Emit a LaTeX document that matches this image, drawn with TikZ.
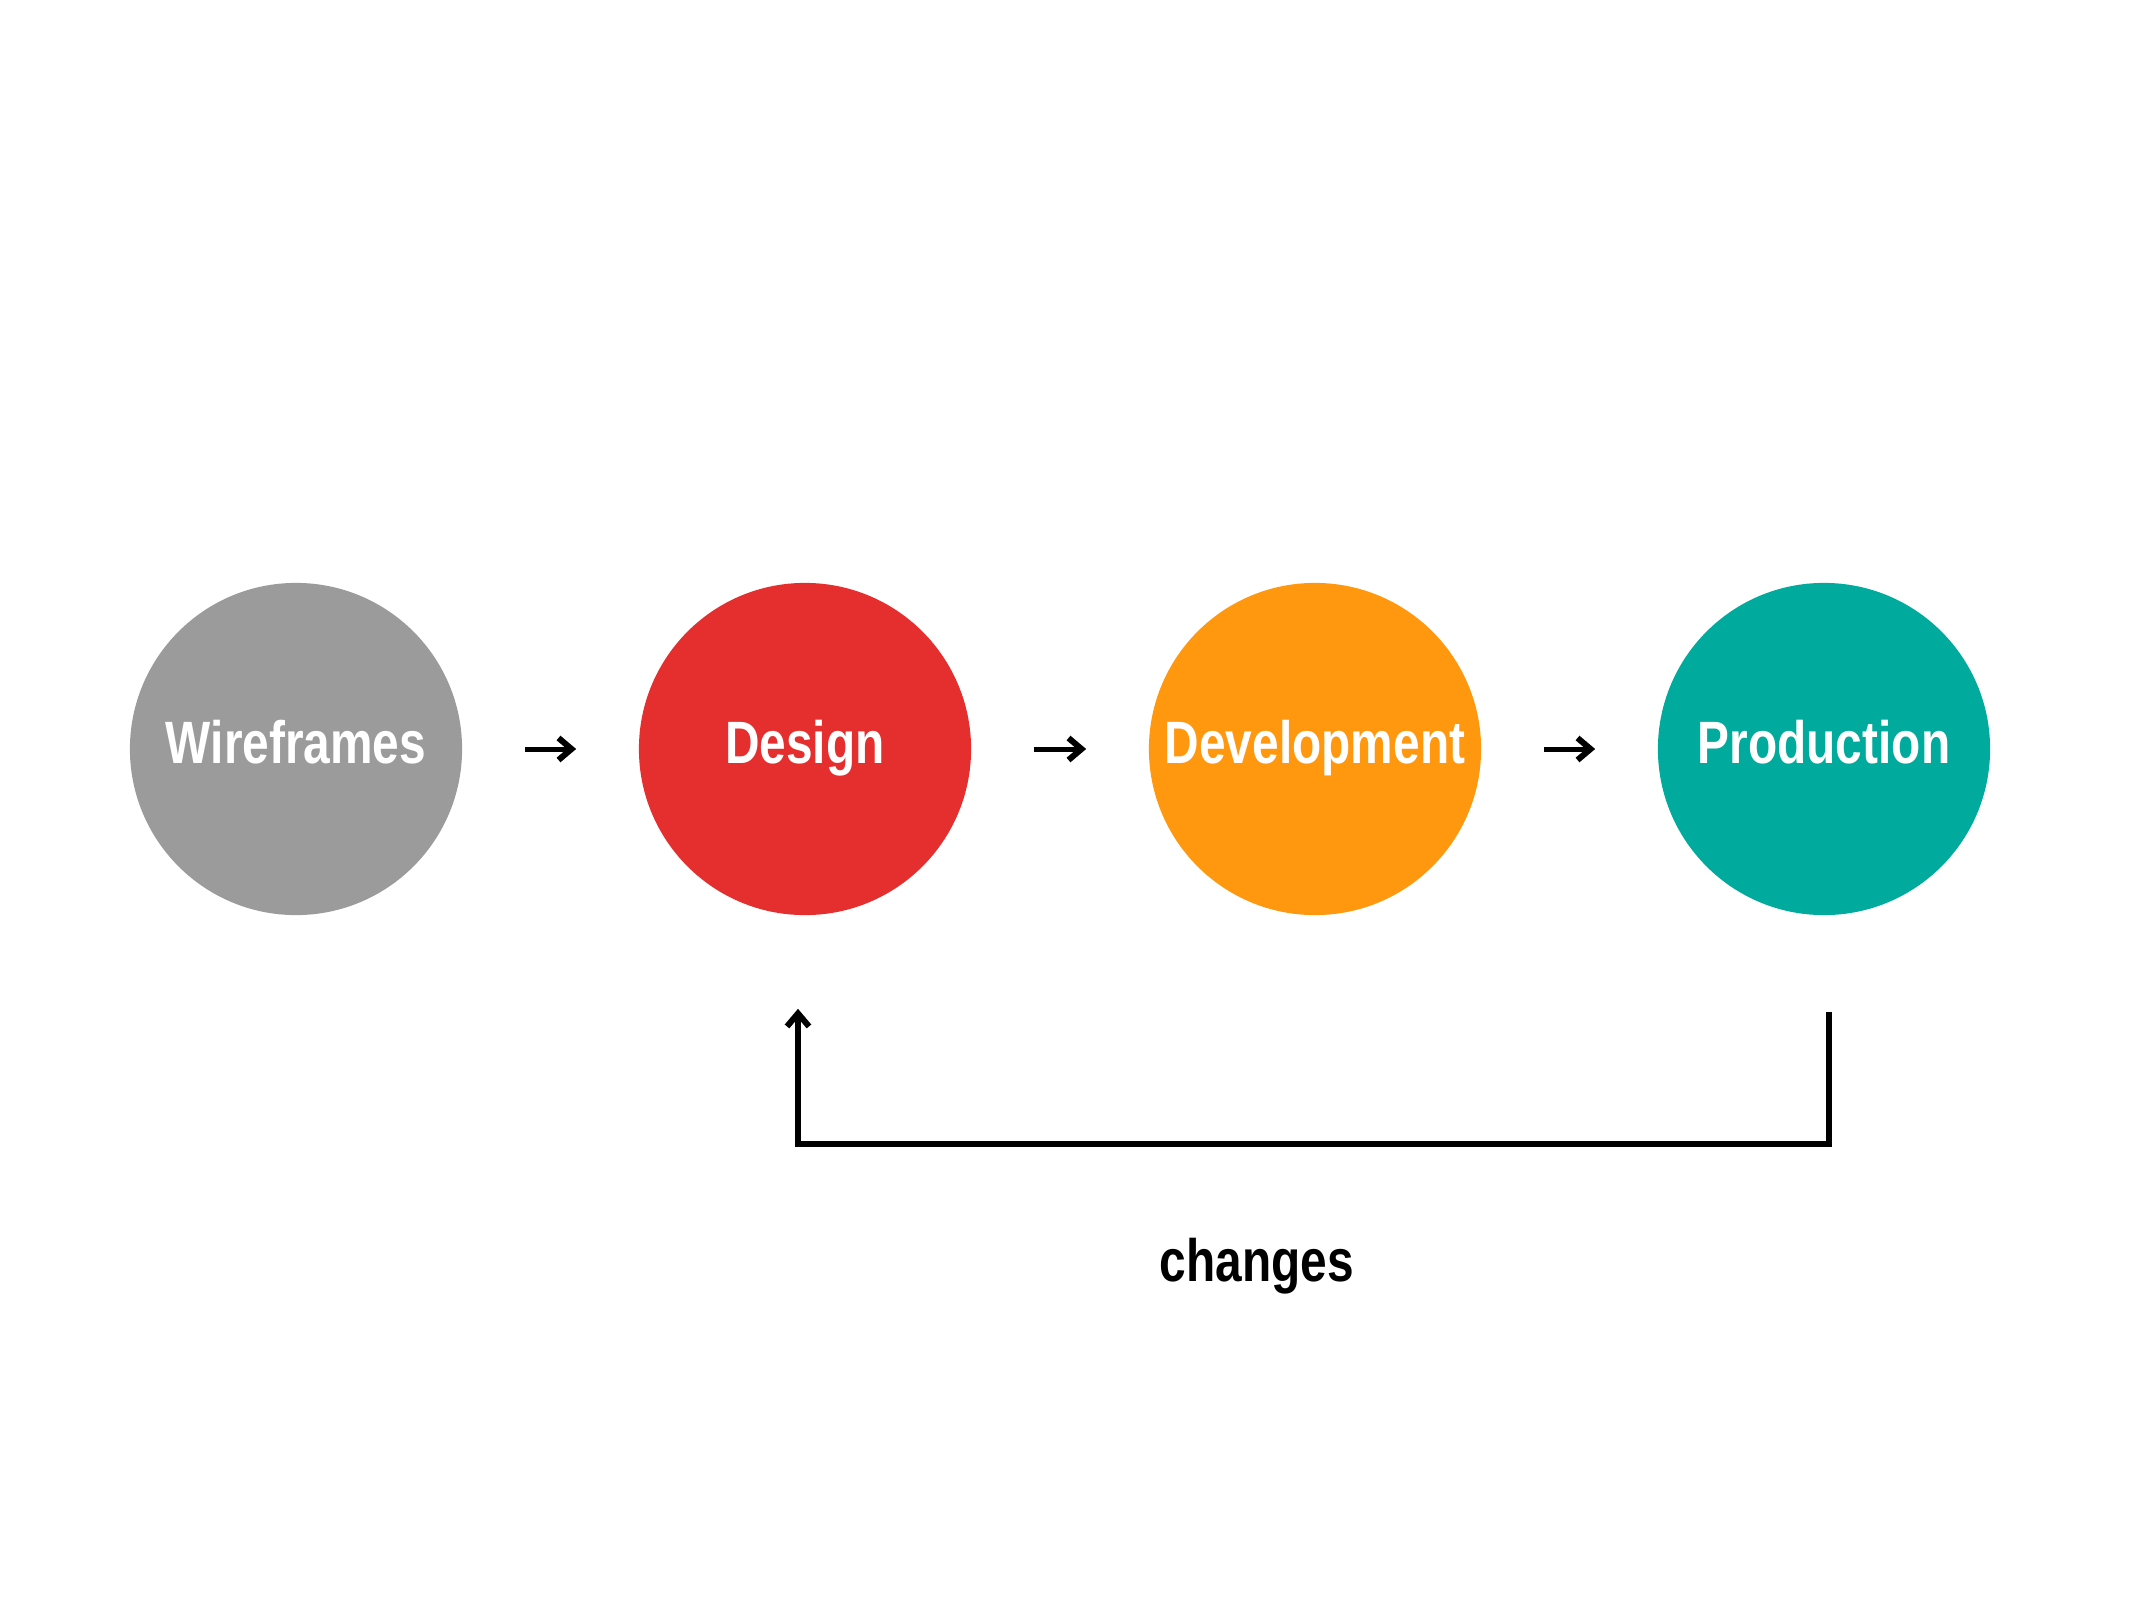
\documentclass[tikz,border=0pt]{standalone}
\usepackage{fontspec}
\usepackage{tikz}
\usetikzlibrary{calc}
\usetikzlibrary{arrows.meta}

\newfontfamily\labelfont[FakeStretch=0.8]{Liberation Sans}
\definecolor{wfgray}{RGB}{155,155,155}
\definecolor{dsred}{RGB}{229,46,46}
\definecolor{dvorange}{RGB}{255,152,14}
\definecolor{prteal}{RGB}{0,170,157}

\begin{document}
\begin{tikzpicture}[x=0.01cm, y=-0.01cm,
	stagenode/.style={circle, minimum size=3.32cm, inner sep=0pt, text=white, text height=0.42cm, text depth=0.13cm, font=\labelfont\bfseries\fontsize{17pt}{20pt}\selectfont},
	flowarrow/.style={line width=0.05cm, -{Straight Barb[length=0.13cm, width=0.22cm, line width=0.06cm]}, shorten <=0.62cm, shorten >=0.62cm},
	backarrow/.style={line width=0.055cm, -{Straight Barb[length=0.13cm, width=0.22cm, line width=0.06cm]}}]
			\useasboundingbox (0,0) rectangle (2133,1600);
			\node (origo) at (296,749) {};

			\node[stagenode, fill=wfgray] (wire) at (origo) {Wireframes};
			\node[stagenode, fill=dsred] (des) at ($(wire)+(509,0)$) {Design};
			\node[stagenode, fill=dvorange] (dev) at ($(des)+(510,0)$) {Development};
			\node[stagenode, fill=prteal] (prod) at ($(dev)+(509,0)$) {Production};

			\node[font=\labelfont\bfseries\fontsize{17pt}{20pt}\selectfont] (chg) at (1257,1266) {changes};

			\draw[flowarrow] (wire) -- (des);
			\draw[flowarrow] (des) -- (dev);
			\draw[flowarrow] (dev) -- (prod);

			\coordinate (fbstart) at ([shift={(5,96)}]prod.south);
			\coordinate (fbend) at ([shift={(-7,93)}]des.south);
			\draw[backarrow] (fbstart) -- ++(0,132) -| (fbend);

		\end{tikzpicture}
\end{document}
